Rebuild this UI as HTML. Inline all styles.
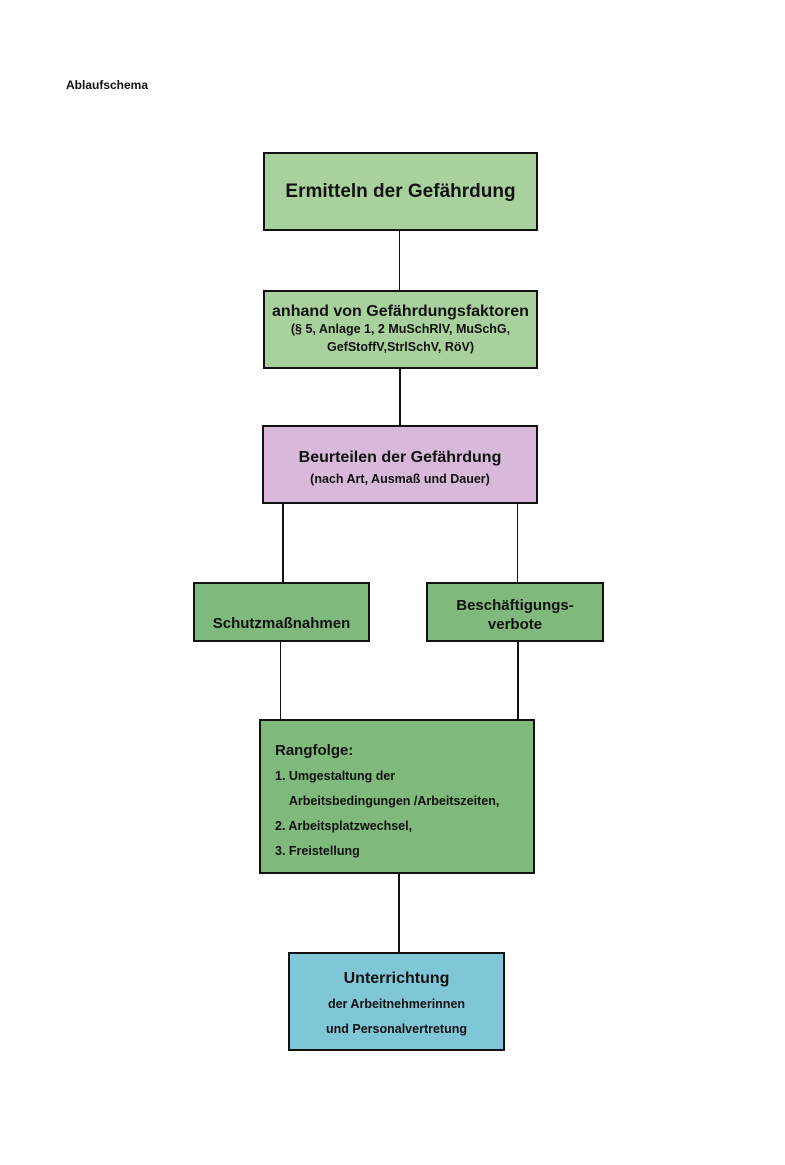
<!DOCTYPE html>
<html><head><meta charset="utf-8"><style>
body{margin:0;width:785px;height:1165px;background:#fff;position:relative;font-family:"Liberation Sans",sans-serif;font-weight:bold;color:#111;overflow:hidden}
.b{position:absolute;box-sizing:border-box;border:2px solid #111;text-align:center}
.l{position:absolute;background:#111;width:2px}
</style></head><body>
<div style="position:absolute;left:66px;top:78px;font-size:12px">Ablaufschema</div>

<div class="b" style="left:263px;top:152px;width:275px;height:79px;background:#a9d19d;font-size:19px;line-height:75px">Ermitteln der Gefährdung</div>
<div class="l" style="left:399px;top:230px;height:61px;width:1px"></div>
<div class="b" style="left:263px;top:290px;width:275px;height:79px;background:#a9d19d;font-size:16px;padding-top:11px;line-height:17px">anhand von Gefährdungsfaktoren<br><span style="font-size:12.5px">(§ 5, Anlage 1, 2 MuSchRlV, MuSchG,<br>GefStoffV,StrlSchV, RöV)</span></div>
<div class="l" style="left:399px;top:368px;height:58px"></div>
<div class="b" style="left:262px;top:425px;width:276px;height:79px;background:#d8b9d9;font-size:16px;padding-top:20px;line-height:21px">Beurteilen der Gefährdung<br><span style="font-size:12.5px">(nach Art, Ausmaß und Dauer)</span></div>
<div class="l" style="left:282px;top:503px;height:80px"></div>
<div class="l" style="left:517px;top:503px;height:80px;width:1px"></div>
<div class="b" style="left:193px;top:582px;width:177px;height:60px;background:#7fba7c;font-size:15px;padding-top:30px;line-height:20px">Schutzmaßnahmen</div>
<div class="b" style="left:426px;top:582px;width:178px;height:60px;background:#7fba7c;font-size:15px;padding-top:12px;line-height:19px">Beschäftigungs-<br>verbote</div>
<div class="l" style="left:280px;top:641px;height:80px;width:1px"></div>
<div class="l" style="left:517px;top:641px;height:80px"></div>
<div class="b" style="left:259px;top:719px;width:276px;height:155px;background:#7fba7c;text-align:left;padding:17px 0 0 14px;font-size:12.5px;line-height:25px"><span style="font-size:15px">Rangfolge:</span><br>1. Umgestaltung der<br>&nbsp;&nbsp;&nbsp;&nbsp;Arbeitsbedingungen /Arbeitszeiten,<br>2. Arbeitsplatzwechsel,<br>3. Freistellung</div>
<div class="l" style="left:398px;top:873px;height:80px"></div>
<div class="b" style="left:288px;top:952px;width:217px;height:99px;background:#7fc6d6;font-size:12.5px;padding-top:12px;line-height:25px"><span style="font-size:16px">Unterrichtung</span><br>der Arbeitnehmerinnen<br>und Personalvertretung</div>
</body></html>
